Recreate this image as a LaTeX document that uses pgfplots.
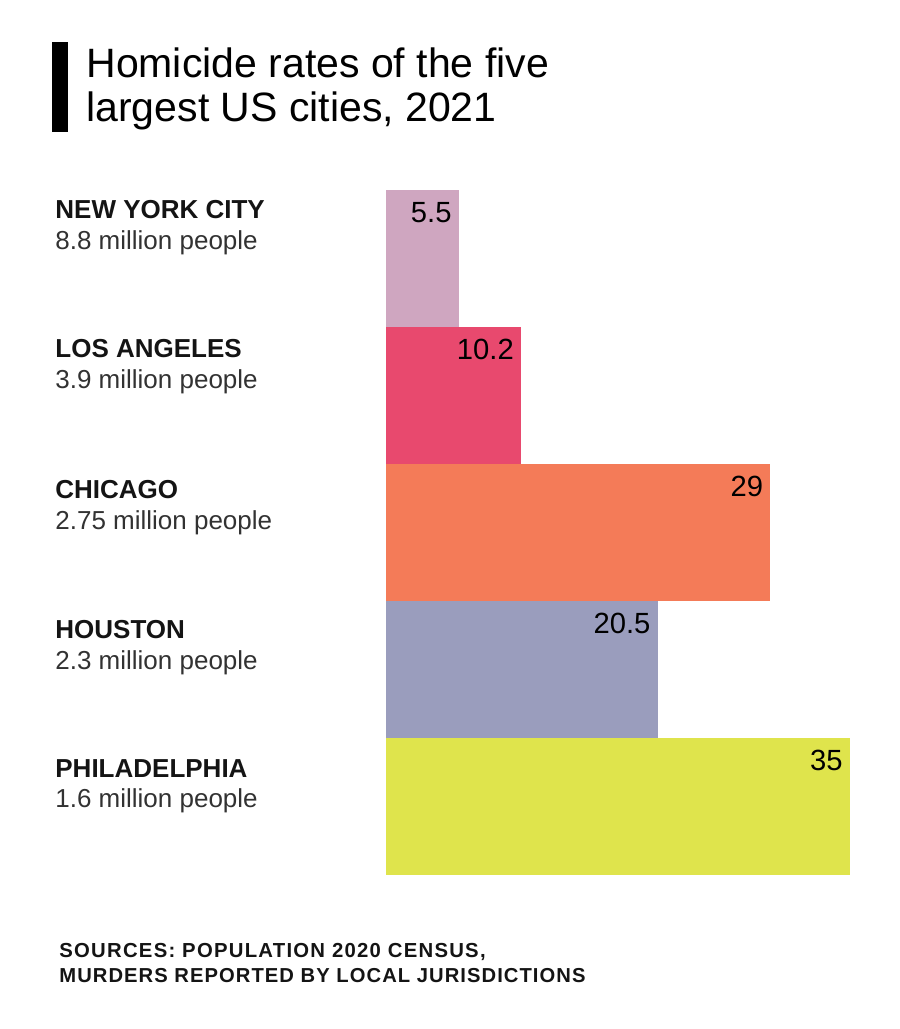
\documentclass[border=0pt]{standalone}
\usepackage{fontspec}
\setmainfont{Liberation Sans}
\usepackage{pgfplots}
\pgfplotsset{compat=1.18}
\definecolor{cNY}{RGB}{207,166,192}
\definecolor{cLA}{RGB}{232,73,110}
\definecolor{cCH}{RGB}{244,123,88}
\definecolor{cHO}{RGB}{154,157,189}
\definecolor{cPH}{RGB}{223,228,76}
\definecolor{txt}{RGB}{20,20,20}
\definecolor{sub}{RGB}{50,50,50}
\begin{document}
\begin{tikzpicture}
\path[use as bounding box] (0bp,0bp) rectangle (450bp,514.5bp);
% title
\fill[black] (26bp,493.5bp) rectangle (34bp,448.5bp);
\node[anchor=base west,inner sep=0,font=\fontsize{20.5bp}{22bp}\selectfont] at (43bp,475.5bp) {Homicide rates of the five};
\node[anchor=base west,inner sep=0,font=\fontsize{20.5bp}{22bp}\selectfont] at (43bp,453.5bp) {largest US cities, 2021};
% sources
\node[anchor=base west,inner sep=0,text=txt,font=\bfseries\fontsize{10.15bp}{12bp}\selectfont\addfontfeature{LetterSpace=6.2}] at (29.5bp,36bp) {SOURCES: POPULATION 2020 CENSUS,};
\node[anchor=base west,inner sep=0,text=txt,font=\bfseries\fontsize{10.1bp}{12bp}\selectfont\addfontfeature{LetterSpace=5.2}] at (29.5bp,23.5bp) {MURDERS REPORTED BY LOCAL JURISDICTIONS};
\begin{axis}[
  at={(193bp,77bp)}, anchor=south west,
  scale only axis, width=232bp, height=342.5bp,
  xbar, bar shift=0pt, bar width=68.5bp,
  xmin=0, xmax=35, ymin=-0.5, ymax=4.5, y dir=reverse,
  axis line style={draw=none}, tick style={draw=none},
  major tick length=0pt,
  xtick=\empty,
  ytick={0.015,1.03,2.058,3.08,4.095},
  yticklabels={
    {\textbf{NEW YORK CITY}\\{\color{sub}8.8 million people}},
    {\textbf{LOS ANGELES}\\{\color{sub}3.9 million people}},
    {\textbf{CHICAGO}\\{\color{sub}2.75 million people}},
    {\textbf{HOUSTON}\\{\color{sub}2.3 million people}},
    {\textbf{PHILADELPHIA}\\{\color{sub}1.6 million people}}},
  yticklabel style={anchor=north west, align=left, inner sep=0pt, text=txt,
    font=\fontsize{13bp}{15.3bp}\selectfont, xshift=-165.5bp, yshift=30.25bp},
  clip=false,
  /pgf/number format/assume math mode=true,
  nodes near coords,
  every node near coord/.append style={anchor=north east, inner sep=0pt,
    font=\fontsize{14.6bp}{16bp}\selectfont, text=black, xshift=-3.5bp, yshift=28.2bp},
]
\addplot[fill=cNY, draw=none] coordinates {(5.5,0)};
\addplot[fill=cLA, draw=none] coordinates {(10.2,1)};
\addplot[fill=cCH, draw=none] coordinates {(29,2)};
\addplot[fill=cHO, draw=none] coordinates {(20.5,3)};
\addplot[fill=cPH, draw=none] coordinates {(35,4)};
\end{axis}
\end{tikzpicture}
\end{document}
